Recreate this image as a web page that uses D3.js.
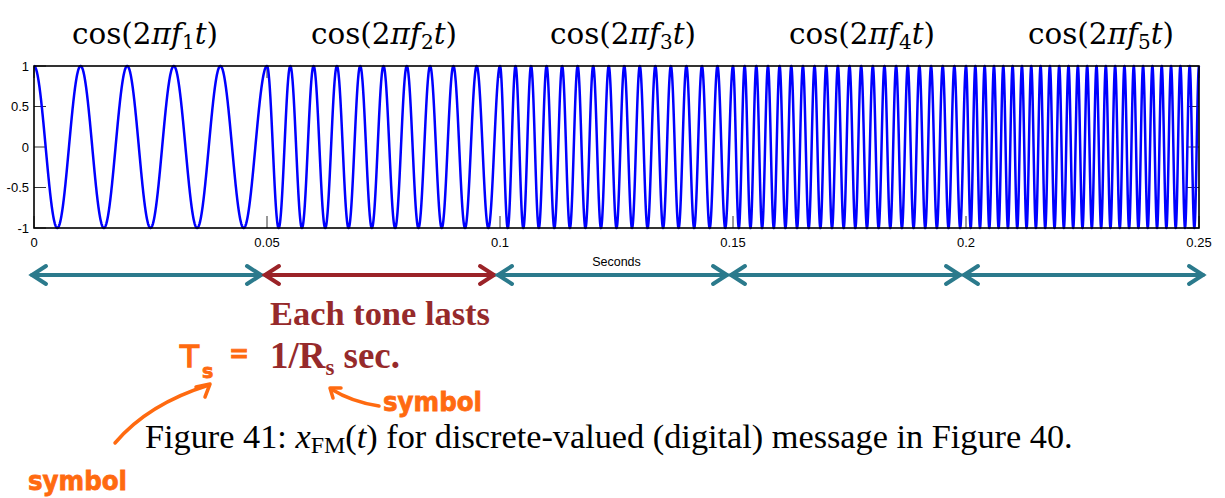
<!DOCTYPE html>
<html><head><meta charset="utf-8">
<script src="https://cdn.jsdelivr.net/npm/d3@7"></script>
<style>body{margin:0;background:#fff}svg{display:block}</style>
</head><body>
<script>
// ---- data ----
const segStarts = [0, 0.05, 0.10, 0.15, 0.20];
const segDuration = 0.05;
const toneFreqs = [100, 200, 300, 400, 500];     // Hz, read from cycle counts
const toneIndex = ["1", "2", "3", "4", "5"];
const xTicks = [0, 0.05, 0.1, 0.15, 0.2, 0.25];
const xTickLabels = ["0", "0.05", "0.1", "0.15", "0.2", "0.25"];
const yTicks = [-1, -0.5, 0, 0.5, 1];
const yTickLabels = ["-1", "-0.5", "0", "0.5", "1"];
const arrowColors = ["#2b7a8c", "#9b2328", "#2b7a8c", "#2b7a8c", "#2b7a8c"];
const sampleRate = 20000;

const W = 1225, H = 498;
const svg = d3.select("body").append("svg").attr("width", W).attr("height", H)
  .style("font-family", "'Liberation Sans', Arial, sans-serif");

const x = d3.scaleLinear().domain([0, 0.25]).range([34, 1199]);
const y = d3.scaleLinear().domain([-1, 1]).range([228, 66]);

function fit(sel, target) {
  const n = sel.node();
  const w = n.getBBox().width;
  const fs = parseFloat(sel.attr("font-size"));
  sel.attr("font-size", fs * target / w);
}

// ---- titles ----
const titleX = d3.scaleLinear().domain([0, 4]).range([145, 1101]);
toneIndex.forEach((k, i) => {
  const t = svg.append("text").attr("x", titleX(i)).attr("y", 44)
    .attr("text-anchor", "middle").attr("font-family", "'DejaVu Serif', serif")
    .attr("font-size", 25).attr("fill", "#000");
  t.append("tspan").text("cos(2");
  t.append("tspan").attr("font-style", "italic").text("πf");
  t.append("tspan").attr("font-size", "68%").attr("dy", 5).text(k);
  t.append("tspan").attr("font-style", "italic").attr("dy", -5).text("t");
  t.append("tspan").text(")");
  fit(t, 146);
});

// ---- plot ----
const g = svg.append("g");
const pts = [];
segStarts.forEach((s, i) => {
  const n = Math.round(segDuration * sampleRate);
  for (let j = 0; j <= n; j++) {
    const t = s + j / sampleRate;
    pts.push({ t, v: Math.cos(2 * Math.PI * toneFreqs[i] * t) });
  }
});

// ticks (inside)
const tickLen = 12;
g.selectAll(".yt").data(yTicks).join("g").each(function (d) {
  const s = d3.select(this);
  s.append("line").attr("x1", x(0)).attr("x2", x(0) + tickLen).attr("y1", y(d)).attr("y2", y(d))
    .attr("stroke", "#333").attr("stroke-width", 1);
  s.append("line").attr("x1", x(0.25)).attr("x2", x(0.25) - tickLen).attr("y1", y(d)).attr("y2", y(d))
    .attr("stroke", "#333").attr("stroke-width", 1);
});
g.selectAll(".xt").data(xTicks).join("g").each(function (d) {
  const s = d3.select(this);
  s.append("line").attr("x1", x(d)).attr("x2", x(d)).attr("y1", y(-1)).attr("y2", y(-1) - tickLen)
    .attr("stroke", "#333").attr("stroke-width", 1);
  s.append("line").attr("x1", x(d)).attr("x2", x(d)).attr("y1", y(1)).attr("y2", y(1) + tickLen)
    .attr("stroke", "#333").attr("stroke-width", 1);
});

g.append("path").datum(pts)
  .attr("d", d3.line().x(d => x(d.t)).y(d => y(d.v)))
  .attr("fill", "none").attr("stroke", "#0000ff").attr("stroke-width", 2.5)
  .attr("stroke-linejoin", "round");

// box
g.append("rect").attr("x", x(0)).attr("y", y(1)).attr("width", x(0.25) - x(0)).attr("height", y(-1) - y(1))
  .attr("fill", "none").attr("stroke", "#000").attr("stroke-width", 1.6);

// tick labels
g.selectAll(".yl").data(yTicks).join("text")
  .attr("x", x(0) - 5).attr("y", d => y(d)).attr("dy", "0.35em")
  .attr("text-anchor", "end").attr("font-size", 13).attr("fill", "#000")
  .text((d, i) => yTickLabels[i]);
g.selectAll(".xl").data(xTicks).join("text")
  .attr("x", d => x(d)).attr("y", y(-1) + 19)
  .attr("text-anchor", "middle").attr("font-size", 13).attr("fill", "#000")
  .text((d, i) => xTickLabels[i]);
g.append("text").attr("x", x(0.125)).attr("y", 266).attr("text-anchor", "middle")
  .attr("font-size", 12.5).attr("fill", "#000").text("Seconds");

// ---- duration arrows ----
const ay = 275;
segStarts.forEach((s, i) => {
  const x0 = x(s) - 4;
  const x1 = i === segStarts.length - 1 ? x(s + segDuration) + 6 : x(s + segDuration) - 4;
  const c = arrowColors[i];
  const a = svg.append("g").attr("stroke", c).attr("stroke-width", 4).attr("fill", "none")
    .attr("stroke-linecap", "round").attr("stroke-linejoin", "miter");
  a.append("line").attr("x1", x0 + 2).attr("x2", x1 - 2).attr("y1", ay).attr("y2", ay);
  a.append("path").attr("d", `M${x0 + 16},${ay - 9} L${x0 + 2},${ay} L${x0 + 16},${ay + 9}`);
  a.append("path").attr("d", `M${x1 - 16},${ay - 9} L${x1 - 2},${ay} L${x1 - 16},${ay + 9}`);
});

// ---- red annotation ----
const red = "#962a2b";
const t1 = svg.append("text").attr("x", 270).attr("y", 325).attr("font-family", "'Liberation Serif', serif")
  .attr("font-weight", "bold").attr("font-size", 27).attr("fill", red).text("Each tone lasts");
fit(t1, 220);
const t2 = svg.append("text").attr("x", 270).attr("y", 368).attr("font-family", "'Liberation Serif', serif")
  .attr("font-weight", "bold").attr("font-size", 27).attr("fill", red);
t2.append("tspan").text("1/R");
t2.append("tspan").attr("font-size", "62%").attr("dy", 7).text("s");
t2.append("tspan").attr("dy", -7).text(" sec.");
fit(t2, 130);

// ---- orange handwriting ----
const org = "#ff6a10";
const hw = svg.append("g").attr("fill", org).attr("stroke", org).attr("stroke-width", 0.8)
  .attr("font-family", "'DejaVu Sans', sans-serif").attr("font-weight", "bold");
hw.append("text").attr("x", 180).attr("y", 367).attr("font-size", 31).attr("font-weight", "normal")
  .attr("stroke-width", 1.4).text("T");
hw.append("text").attr("x", 202).attr("y", 378).attr("font-size", 19).text("s");
hw.append("text").attr("x", 229).attr("y", 362).attr("font-size", 24).text("=");
hw.append("text").attr("x", 383).attr("y", 411).attr("font-size", 27)
  .attr("textLength", 99).attr("lengthAdjust", "spacingAndGlyphs").text("symbol");
hw.append("text").attr("x", 28).attr("y", 490).attr("font-size", 27)
  .attr("textLength", 99).attr("lengthAdjust", "spacingAndGlyphs").text("symbol");

const og = svg.append("g").attr("stroke", org).attr("stroke-width", 3.5).attr("fill", "none")
  .attr("stroke-linecap", "round").attr("stroke-linejoin", "round");
og.append("path").attr("d", "M115,443 Q148,404 209,385");
og.append("path").attr("d", "M196,387 L210,384 L205,397");
og.append("path").attr("d", "M379,406 Q352,402 331,389");
og.append("path").attr("d", "M341,388 L330,388 L333,398");

// ---- caption ----
const cap = svg.append("text").attr("x", 145).attr("y", 448).attr("font-family", "'Liberation Serif', serif")
  .attr("font-size", 28).attr("fill", "#000");
cap.append("tspan").text("Figure 41: ");
cap.append("tspan").attr("font-style", "italic").text("x");
cap.append("tspan").attr("font-size", "70%").attr("dy", 5).text("FM");
cap.append("tspan").attr("dy", -5).text("(");
cap.append("tspan").attr("font-style", "italic").text("t");
cap.append("tspan").text(") for discrete-valued (digital) message in Figure 40.");
fit(cap, 928);
</script>
</body></html>
